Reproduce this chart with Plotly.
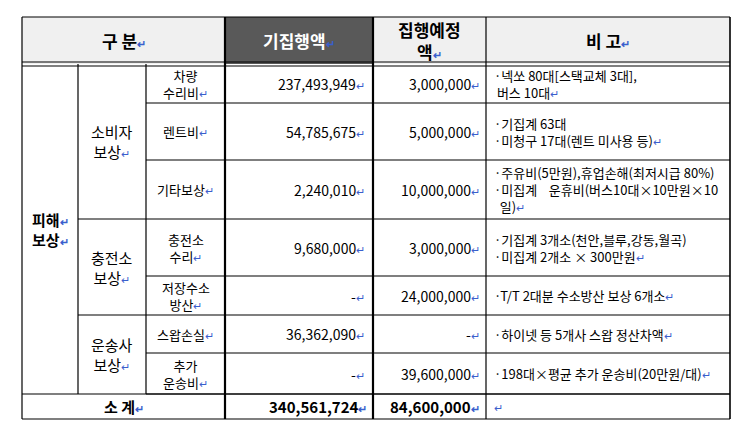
import plotly.graph_objects as go

headers = ["구 분", "기집행액", "집행예정<br>액", "비 고"]
groups = ["소비자<br>보상", "충전소<br>보상", "운송사<br>보상"]
items = ["차량<br>수리비", "렌트비", "기타보상", "충전소<br>수리", "저장수소<br>방산", "스왑손실", "추가<br>운송비"]
executed = ["237,493,949", "54,785,675", "2,240,010", "9,680,000", "-", "36,362,090", "-"]
planned = ["3,000,000", "5,000,000", "10,000,000", "3,000,000", "24,000,000", "-", "39,600,000"]
notes = [
    ["·넥쏘 80대[스택교체 3대],", " 버스 10대"],
    ["·기집계 63대", "·미청구 17대(렌트 미사용 등)"],
    ["·주유비(5만원),휴업손해(최저시급 80%)", "·미집계    운휴비(버스10대×10만원×10", "  일)"],
    ["·기집계 3개소(천안,블루,강동,월곡)", "·미집계 2개소 × 300만원"],
    ["·T/T 2대분 수소방산 보상 6개소"],
    ["·하이넷 등 5개사 스왑 정산차액"],
    ["·198대×평균 추가 운송비(20만원/대)"],
]
total_label = "소 계"
total_exec = "340,561,724"
total_plan = "84,600,000"

W, H = 742, 423
X = [14, 70, 138, 217, 365, 478, 722]
Y = [9, 56, 95, 152, 211, 268, 307, 345, 386, 411]
GROUP_ROWS = [(1, 4), (4, 6), (6, 8)]
ARROW = "<span style='color:#3a5fcd;font-size:11px'>↵</span>"
FONT = "Noto Sans CJK KR, Noto Sans, sans-serif"

fig = go.Figure()
shapes, ann = [], []

def line(x0, y0, x1, y1, w=1.2):
    shapes.append(dict(type="line", x0=x0, y0=y0, x1=x1, y1=y1, line=dict(color="black", width=w)))

def text(x, y, t, anchor="center", size=14, bold=False, color="black"):
    if bold:
        t = "<b>" + t + "</b>"
    ann.append(dict(x=x, y=y, text=t, showarrow=False, xanchor=anchor, yanchor="middle",
                    font=dict(family=FONT, size=size, color=color), align="left" if anchor == "left" else "center"))

# header fills
shapes.append(dict(type="rect", x0=X[0], y0=Y[0], x1=X[6], y1=Y[1], fillcolor="#f0f0f0", line=dict(width=0), layer="below"))
shapes.append(dict(type="rect", x0=X[3], y0=Y[0], x1=X[4], y1=Y[1], fillcolor="#595959", line=dict(width=0), layer="below"))

# outer
line(X[0], Y[0], X[6], Y[0])
line(X[0], Y[-1], X[6], Y[-1])
line(X[0], Y[0], X[0], Y[-1])
line(X[6], Y[0], X[6], Y[-1], 1.6)
# header double line
line(X[0], Y[1] - 2, X[6], Y[1] - 2)
line(X[0], Y[1] + 2, X[6], Y[1] + 2)
# thick columns
line(X[3], Y[0], X[3], Y[-1], 2.2)
line(X[4], Y[0], X[4], Y[-1], 2.2)
line(X[5], Y[0], X[5], Y[-1])
line(X[1], Y[1], X[1], Y[-2])
line(X[2], Y[1], X[2], Y[-2])
# row lines
for i in range(2, len(Y) - 1):
    line(X[2], Y[i], X[6], Y[i])
for a, b in GROUP_ROWS[:-1]:
    line(X[1], Y[b], X[2], Y[b])
line(X[0], Y[-2], X[6], Y[-2])

# header text
text((X[0] + X[3]) / 2, (Y[0] + Y[1]) / 2, headers[0] + ARROW, size=17, bold=True)
text((X[3] + X[4]) / 2, (Y[0] + Y[1]) / 2, headers[1] + ARROW, size=17, bold=True, color="white")
text((X[4] + X[5]) / 2, (Y[0] + Y[1]) / 2, "집행예정<br>액" + ARROW, size=17, bold=True)
text((X[5] + X[6]) / 2, (Y[0] + Y[1]) / 2, headers[3] + ARROW, size=17, bold=True)

text((X[0] + X[1]) / 2, (Y[1] + Y[-2]) / 2, "피해" + ARROW + "<br>보상" + ARROW, size=15, bold=True)
for g, (a, b) in zip(groups, GROUP_ROWS):
    parts = g.split("<br>")
    text((X[1] + X[2]) / 2, (Y[a] + Y[b]) / 2, parts[0] + "<br>" + parts[1] + ARROW, size=15)

for i in range(7):
    yc = (Y[i + 1] + Y[i + 2]) / 2
    text((X[2] + X[3]) / 2, yc, items[i] + ARROW, size=13)
    text(X[4] - 6, yc, executed[i] + ARROW, anchor="right", size=14)
    text(X[5] - 4, yc, planned[i] + ARROW, anchor="right", size=14)
    text(X[5] + 6, yc, ARROW.join([""] * 0) + "<br>".join(notes[i]) + ARROW, anchor="left", size=13)

yc = (Y[-2] + Y[-1]) / 2
text((X[0] + X[3]) / 2, yc, total_label + ARROW, size=15, bold=True)
text(X[4] - 4, yc, total_exec + ARROW, anchor="right", size=15, bold=True)
text(X[5] - 4, yc, total_plan + ARROW, anchor="right", size=15, bold=True)
text(X[5] + 6, yc, ARROW, anchor="left")

fig.update_layout(width=W, height=H, margin=dict(l=0, r=0, t=0, b=0),
                  paper_bgcolor="white", plot_bgcolor="white", shapes=shapes, annotations=ann,
                  xaxis=dict(range=[0, W], visible=False, fixedrange=True),
                  yaxis=dict(range=[H, 0], visible=False, fixedrange=True))
fig.write_html("out.html")
